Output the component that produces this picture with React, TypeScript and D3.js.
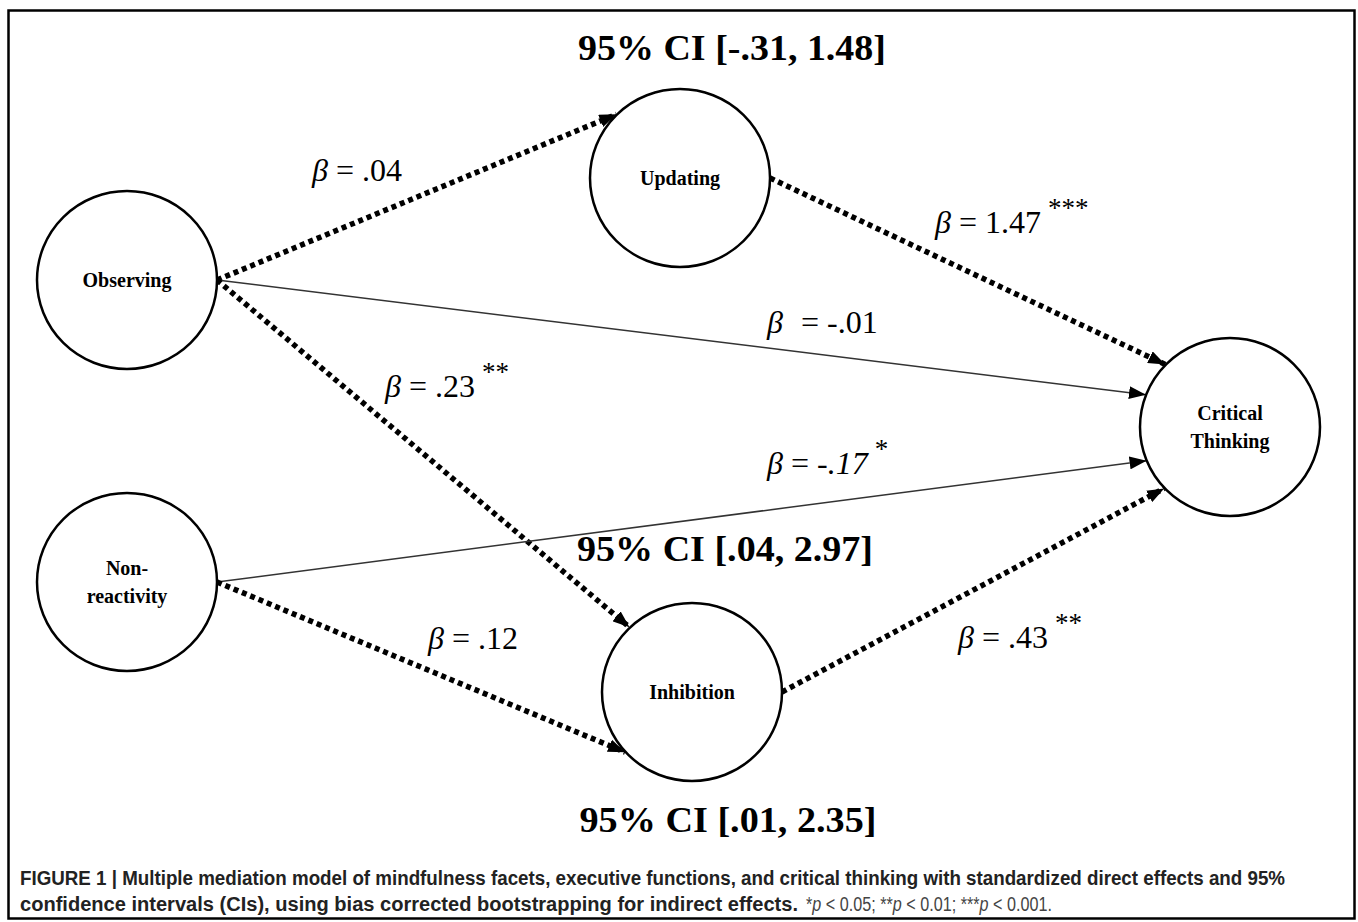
import React, { useEffect, useRef } from 'react';
import * as d3 from 'd3';

// constructs of the mediation model
const nodes = [
  { id: 'obs', lines: ['Observing'] },
  { id: 'non', lines: ['Non-', 'reactivity'] },
  { id: 'upd', lines: ['Updating'] },
  { id: 'inh', lines: ['Inhibition'] },
  { id: 'crit', lines: ['Critical', 'Thinking'] },
];

// standardized paths: dotted = indirect (a/b paths), solid = direct
const paths = [
  { from: 'obs', to: 'upd', kind: 'indirect', beta: '.04', sig: '' },
  { from: 'upd', to: 'crit', kind: 'indirect', beta: '1.47', sig: '***' },
  { from: 'obs', to: 'crit', kind: 'direct', beta: '-.01', sig: '' },
  { from: 'obs', to: 'inh', kind: 'indirect', beta: '.23', sig: '**' },
  { from: 'non', to: 'crit', kind: 'direct', beta: '-.17', sig: '*' },
  { from: 'non', to: 'inh', kind: 'indirect', beta: '.12', sig: '' },
  { from: 'inh', to: 'crit', kind: 'indirect', beta: '.43', sig: '**' },
];

// bootstrapped confidence intervals of the indirect effects
const intervals = [
  { lo: '-.31', hi: '1.48' },
  { lo: '.04', hi: '2.97' },
  { lo: '.01', hi: '2.35' },
];

const captionBold1 =
  'FIGURE 1 | Multiple mediation model of mindfulness facets, executive functions, and critical thinking with standardized direct effects and 95%';
const captionBold2 =
  'confidence intervals (CIs), using bias corrected bootstrapping for indirect effects.';
const pValues = ['0.05', '0.01', '0.001'];

// layout
const W = 1358;
const H = 922;
const R = 90;
const centers = {
  obs: [127, 280],
  non: [127, 582],
  upd: [680, 178],
  inh: [692, 692],
  crit: [1230, 427],
};
// angle (deg) where each arrow meets its target circle
const inPorts = [-135, -136, -159, -134, 158, 138, 137];
// [x of label start, baseline]
const betaPos = [
  [312, 181],
  [935, 233],
  [767, 333],
  [385, 397],
  [767, 474],
  [428, 649],
  [958, 648],
];
// [centre x, baseline, width]
const ciPos = [
  [732, 60, 308],
  [725, 561, 296],
  [728, 832, 297],
];

const serif = '"Liberation Serif", "Times New Roman", serif';
const sans = '"Liberation Sans", Arial, sans-serif';

const App = () => {
  const svgRef = useRef();

  useEffect(() => {
    const svg = d3.select(svgRef.current);
    svg.selectAll('*').remove();
    svg.attr('width', W).attr('height', H);

    const defs = svg.append('defs');
    defs.append('marker')
      .attr('id', 'head')
      .attr('markerUnits', 'userSpaceOnUse')
      .attr('viewBox', '0 0 17 13')
      .attr('refX', 17)
      .attr('refY', 6.5)
      .attr('markerWidth', 17)
      .attr('markerHeight', 13)
      .attr('orient', 'auto')
      .append('path')
      .attr('d', 'M0,0L17,6.5L0,13Z')
      .attr('fill', '#000');

    svg.append('rect')
      .attr('x', 8.5).attr('y', 10.5)
      .attr('width', 1346).attr('height', 908)
      .attr('fill', '#fff')
      .attr('stroke', '#000')
      .attr('stroke-width', 2.5);

    const line = d3.line();

    const g = svg.append('g');
    paths.forEach((p, i) => {
      const [sx, sy] = centers[p.from];
      const [tx, ty] = centers[p.to];
      const a = (inPorts[i] * Math.PI) / 180;
      const start = [sx + R, sy];
      const end = [tx + R * Math.cos(a), ty + R * Math.sin(a)];
      const path = g.append('path')
        .attr('d', line([start, end]))
        .attr('fill', 'none')
        .attr('stroke', p.kind === 'direct' ? '#333' : '#000')
        .attr('marker-end', 'url(#head)');
      if (p.kind === 'direct') {
        path.attr('stroke-width', 1.5);
      } else {
        path.attr('stroke-width', 5.5).attr('stroke-dasharray', '5 4');
      }
    });

    const node = svg.selectAll('g.node')
      .data(nodes)
      .enter()
      .append('g')
      .attr('class', 'node')
      .attr('transform', d => `translate(${centers[d.id][0]},${centers[d.id][1]})`);

    node.append('ellipse')
      .attr('rx', R)
      .attr('ry', R - 1)
      .attr('fill', '#fff')
      .attr('stroke', '#000')
      .attr('stroke-width', 2.5);

    node.each(function (d) {
      const t = d3.select(this).append('text')
        .attr('text-anchor', 'middle')
        .style('font-family', serif)
        .style('font-weight', 'bold')
        .style('font-size', '20px');
      const off = (d.lines.length - 1) * 14;
      d.lines.forEach((s, k) => {
        t.append('tspan')
          .attr('x', 0)
          .attr('y', -off + k * 28 + 7)
          .text(s);
      });
    });

    // beta labels
    paths.forEach((p, i) => {
      const [x, y] = betaPos[i];
      const t = svg.append('text')
        .attr('x', x).attr('y', y)
        .style('font-family', serif)
        .style('font-size', '32px');
      t.append('tspan').style('font-style', 'italic').text('β');
      t.append('tspan').attr('dx', p.beta === '-.01' ? 10 : 0).text(' = ');
      t.append('tspan')
        .style('font-style', p.beta === '-.17' ? 'italic' : 'normal')
        .text(p.beta);
      if (p.sig) {
        t.append('tspan')
          .attr('dx', 7)
          .attr('dy', -16)
          .style('font-size', '27px')
          .text(p.sig);
      }
    });

    // CI labels
    intervals.forEach((c, i) => {
      svg.append('text')
        .attr('x', ciPos[i][0]).attr('y', ciPos[i][1])
        .attr('text-anchor', 'middle')
        .attr('textLength', ciPos[i][2])
        .attr('lengthAdjust', 'spacingAndGlyphs')
        .style('font-family', serif)
        .style('font-weight', 'bold')
        .style('font-size', '35px')
        .text(`95% CI [${c.lo}, ${c.hi}]`);
    });

    // caption
    svg.append('text')
      .attr('x', 20).attr('y', 885)
      .attr('textLength', 1265)
      .attr('lengthAdjust', 'spacingAndGlyphs')
      .style('font-family', sans)
      .style('font-weight', 'bold')
      .style('font-size', '19.5px')
      .attr('fill', '#222')
      .text(captionBold1);

    svg.append('text')
      .attr('x', 20).attr('y', 911)
      .attr('textLength', 778)
      .attr('lengthAdjust', 'spacingAndGlyphs')
      .style('font-family', sans)
      .style('font-weight', 'bold')
      .style('font-size', '19.5px')
      .attr('fill', '#222')
      .text(captionBold2);

    const c2 = svg.append('g')
      .attr('transform', 'translate(806,911) scale(0.83,1)')
      .append('text')
      .style('font-family', sans)
      .style('font-size', '19.5px')
      .attr('fill', '#444');
    pValues.forEach((v, k) => {
      c2.append('tspan').text('*'.repeat(k + 1));
      c2.append('tspan').style('font-style', 'italic').text('p');
      c2.append('tspan').text(` < ${v}${k < pValues.length - 1 ? '; ' : '.'}`);
    });
  }, []);

  return (
    <svg ref={svgRef} style={{ position: 'absolute', left: 0, top: 0, display: 'block' }}></svg>
  );
};

export default App;
